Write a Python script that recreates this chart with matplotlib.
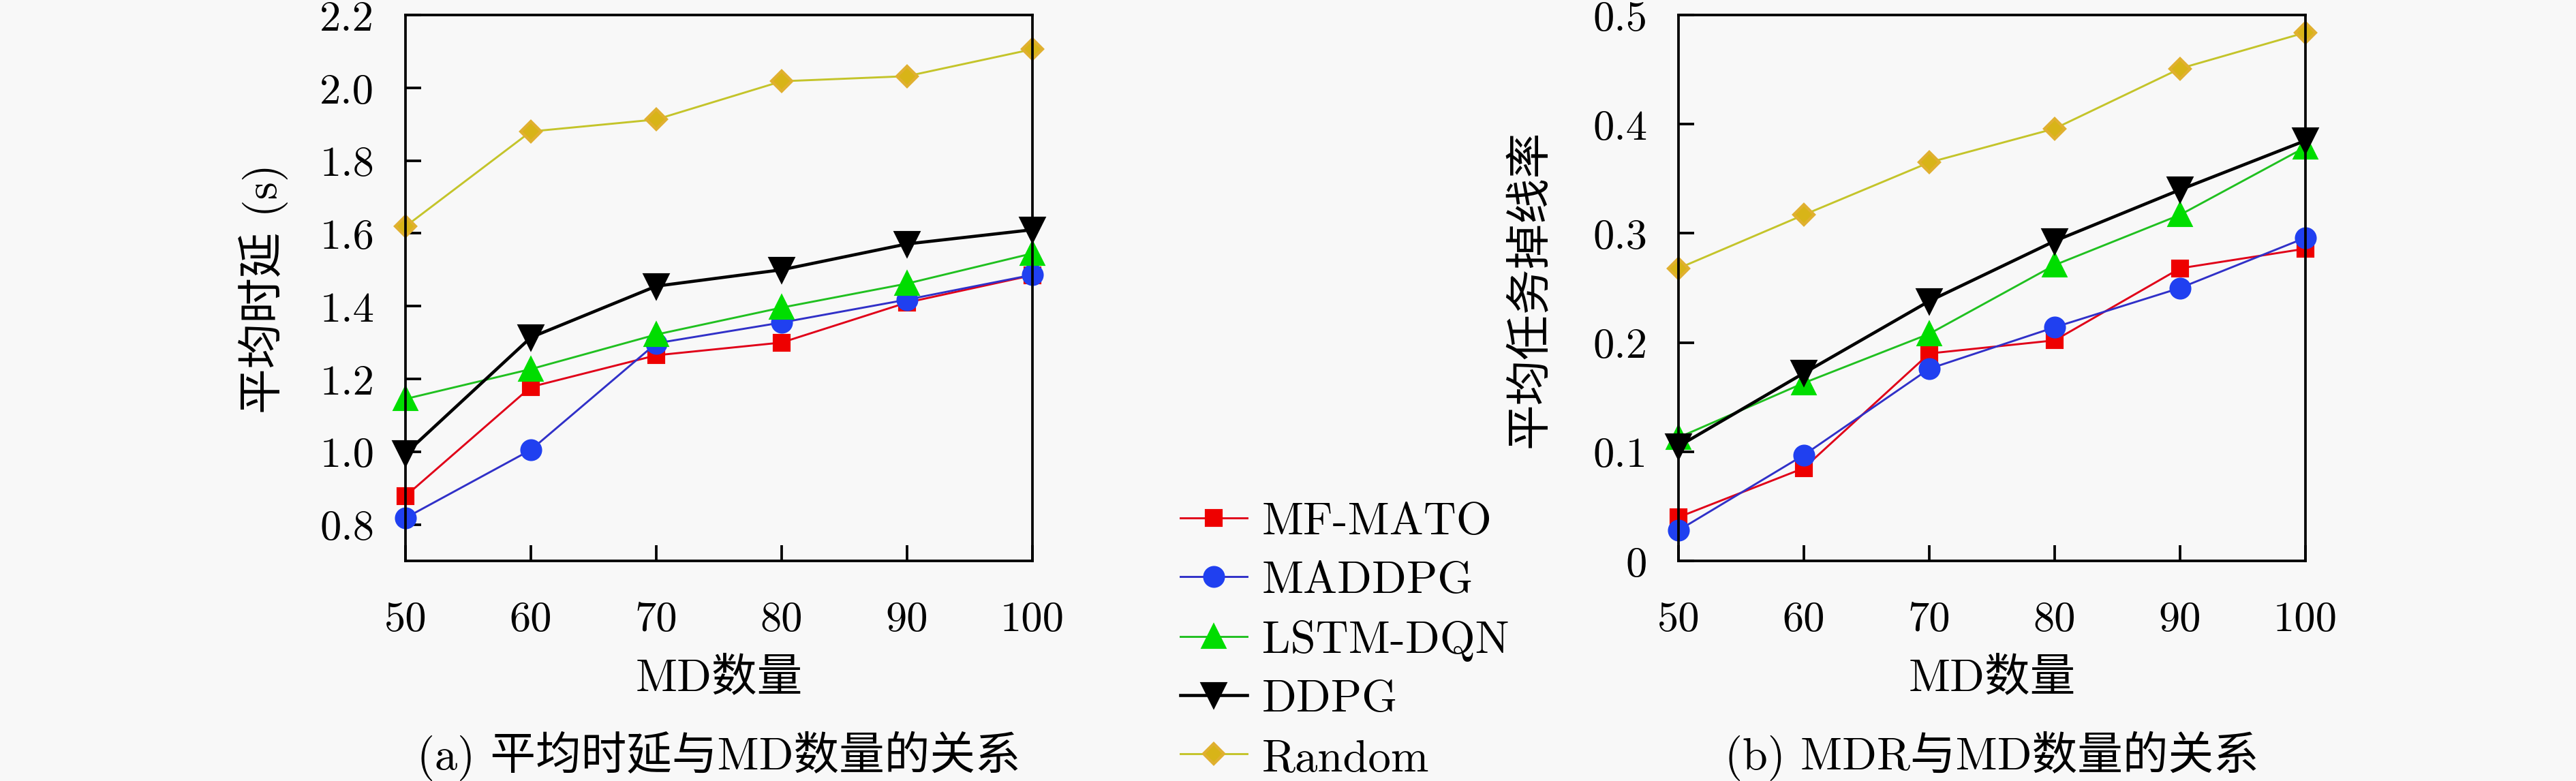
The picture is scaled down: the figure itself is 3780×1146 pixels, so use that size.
import numpy as np
import matplotlib
matplotlib.use('Agg')
import matplotlib.pyplot as plt

plt.rcParams['font.family'] = ['cmr10', 'Noto Sans CJK SC', 'DejaVu Sans']
plt.rcParams['axes.formatter.use_mathtext'] = True

# 数据
md_num = [50, 60, 70, 80, 90, 100]
names = ['MF-MATO', 'MADDPG', 'LSTM-DQN', 'DDPG', 'Random']

delay_mfmato = [0.878, 1.178, 1.265, 1.300, 1.410, 1.485]
delay_maddpg = [0.818, 1.005, 1.298, 1.355, 1.418, 1.486]
delay_lstm = [1.145, 1.227, 1.322, 1.396, 1.462, 1.545]
delay_ddpg = [0.995, 1.314, 1.455, 1.500, 1.571, 1.610]
delay_random = [1.619, 1.880, 1.913, 2.018, 2.032, 2.106]

mdr_mfmato = [0.040, 0.085, 0.190, 0.202, 0.268, 0.286]
mdr_maddpg = [0.028, 0.097, 0.176, 0.214, 0.250, 0.296]
mdr_lstm = [0.113, 0.163, 0.208, 0.271, 0.317, 0.379]
mdr_ddpg = [0.105, 0.172, 0.238, 0.293, 0.340, 0.385]
mdr_random = [0.268, 0.317, 0.365, 0.396, 0.451, 0.484]

ytick_a = [0.8, 1.0, 1.2, 1.4, 1.6, 1.8, 2.0, 2.2]
ytick_b = [0, 0.1, 0.2, 0.3, 0.4, 0.5]

# 样式
styles = [
    dict(color='#e00018', marker='s', ms=5.5, mfc='#ee0000', mec='#ee0000', lw=0.7),
    dict(color='#3030c8', marker='o', ms=6.7, mfc='#2040f0', mec='#2040f0', lw=0.7),
    dict(color='#20c020', marker='^', ms=7.5, mfc='#00dd00', mec='#00dd00', lw=0.7),
    dict(color='black', marker='v', ms=8, mfc='black', mec='black', lw=1.1),
    dict(color='#c4c42a', marker='D', ms=5.0, mfc='#d8b418', mec='#e0b030', lw=0.7),
]

bg = '#f8f8f8'
fig = plt.figure(figsize=(12.6, 3.8233), dpi=300, facecolor=bg)
ax1 = fig.add_axes([0.1574, 0.2816, 0.2434, 0.6983], facecolor=bg)
ax2 = fig.add_axes([0.6516, 0.2816, 0.2434, 0.6983], facecolor=bg)

series_a = [delay_mfmato, delay_maddpg, delay_lstm, delay_ddpg, delay_random]
series_b = [mdr_mfmato, mdr_maddpg, mdr_lstm, mdr_ddpg, mdr_random]

lines = []
for ys, st, nm in zip(series_a, styles, names):
    l, = ax1.plot(md_num, ys, label=nm, clip_on=False, **st)
    lines.append(l)
for ys, st in zip(series_b, styles):
    ax2.plot(md_num, ys, clip_on=False, **st)

for ax in (ax1, ax2):
    ax.set_xlim(50, 100)
    ax.set_xticks(md_num)
    ax.set_xticklabels([str(v) for v in md_num])
    ax.tick_params(direction='in', length=5.5, width=0.9, labelsize=15,
                   top=False, right=False)
    ax.tick_params(axis='x', pad=14)
    ax.tick_params(axis='y', pad=11)
    for s in ax.spines.values():
        s.set_linewidth(0.9)
    ax.set_xlabel('MD数量', fontsize=16, va='center')
    ax.xaxis.set_label_coords(0.5, -0.2135)

ax1.set_ylim(0.7, 2.2)
ax1.set_yticks(ytick_a)
ax1.set_yticklabels(['%.1f' % v for v in ytick_a])
ax1.set_ylabel('平均时延 (s)', fontsize=16, va='center')
ax1.yaxis.set_label_coords(-0.227, 0.5)

ax2.set_ylim(0, 0.5)
ax2.set_yticks(ytick_b)
ax2.set_yticklabels(['0'] + ['%.1f' % v for v in ytick_b[1:]])
ax2.set_ylabel('平均任务掉线率', fontsize=16, va='center')
ax2.yaxis.set_label_coords(-0.236, 0.5)

fig.text(0.2791, 0.033, '(a) 平均时延与MD数量的关系', fontsize=16, ha='center', va='center')
fig.text(0.7733, 0.033, '(b) MDR与MD数量的关系', fontsize=16, ha='center', va='center')

fig.legend(handles=lines, loc='center left', bbox_to_anchor=(0.4582, 0.180),
           frameon=False, fontsize=16, handlelength=1.47, handletextpad=0.33,
           labelspacing=0.4, borderpad=0, borderaxespad=0)

fig.savefig('out.png', dpi=300, facecolor=bg)
